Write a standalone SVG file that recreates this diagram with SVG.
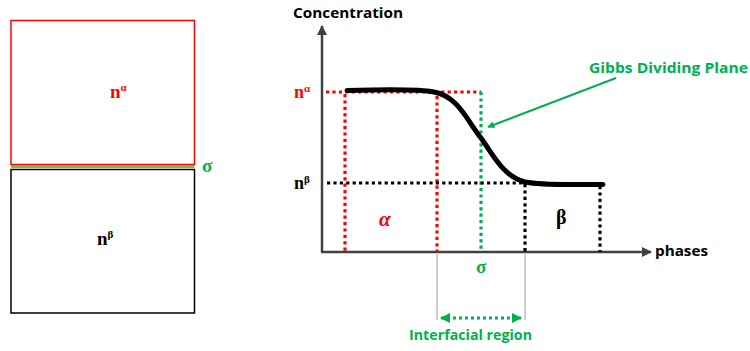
<svg xmlns="http://www.w3.org/2000/svg" width="750" height="351" viewBox="0 0 750 351">
<defs>
<style>
.lbl{font-family:"Open Sans","Liberation Sans",sans-serif;font-weight:bold;font-size:15px}
.gk{font-family:"Liberation Serif","DejaVu Serif",serif;font-weight:bold}
.dot{stroke-width:3.2;stroke-dasharray:3.2 3.2;fill:none}
.red{stroke:#ff0000}.blk{stroke:#000}.grn{stroke:#00b050}
</style>
<marker id="ah" viewBox="0 0 10 10" refX="9" refY="5" markerWidth="4" markerHeight="4" orient="auto-start-reverse"><path d="M0,0L10,5L0,10z" fill="#404040"/></marker>
<marker id="gh" viewBox="0 0 10 10" refX="9" refY="5" markerWidth="3.5" markerHeight="3.5" orient="auto-start-reverse"><path d="M0,0L10,5L0,10z" fill="#00b050"/></marker>
</defs>
<rect width="750" height="351" fill="#fff"/>
<g id="phase-alpha">
<rect x="11" y="20.5" width="183.5" height="144" fill="none" stroke="#ff0000" stroke-width="1.5"/>
<text x="110" y="98" class="gk" font-size="19" fill="#ff0000">n<tspan font-size="11" dy="-7">α</tspan></text>
</g>
<g id="interface">
<line x1="11" y1="166.5" x2="194.5" y2="166.5" stroke="#7cc040" stroke-width="3"/>
<text x="202" y="172" class="gk" font-size="19" fill="#00b050">σ</text>
</g>
<g id="phase-beta">
<rect x="11" y="169.5" width="183.5" height="143.5" fill="none" stroke="#000" stroke-width="1.5"/>
<text x="97" y="245" class="gk" font-size="19" fill="#000">n<tspan font-size="11" dy="-7">β</tspan></text>
</g>
<g id="connectors">
<line x1="322" y1="252" x2="322" y2="26" stroke="#404040" stroke-width="2.5" marker-end="url(#ah)"/>
<line x1="321" y1="252" x2="651" y2="252" stroke="#404040" stroke-width="2.5" marker-end="url(#ah)"/>
<line x1="326" y1="92" x2="481" y2="92" class="dot red"/>
<line x1="345" y1="94" x2="345" y2="252" class="dot red"/>
<line x1="437" y1="96" x2="437" y2="252" class="dot red"/>
<line x1="481" y1="92" x2="481" y2="252" class="dot grn"/>
<line x1="327" y1="183" x2="525" y2="183" class="dot blk"/>
<line x1="525" y1="184" x2="525" y2="252" class="dot blk"/>
<line x1="600" y1="186" x2="600" y2="252" class="dot blk"/>
<path d="M347,90.5 C380,89.5 420,89 434,92 C458,96 468,122 481,138 C494,156 503,176 525,182 C545,186 580,184 603,184.5" fill="none" stroke="#000" stroke-width="5" stroke-linecap="round"/>
<line x1="437" y1="254" x2="437" y2="320" stroke="#999" stroke-width="1"/>
<line x1="525" y1="254" x2="525" y2="320" stroke="#999" stroke-width="1"/>
<line x1="441" y1="318" x2="521" y2="318" stroke="#00b050" stroke-width="3" stroke-dasharray="3 3" marker-start="url(#gh)" marker-end="url(#gh)"/>
<line x1="616" y1="78" x2="488" y2="127" stroke="#00b050" stroke-width="2" marker-end="url(#gh)"/>
</g>
<g id="labels">
<text x="293" y="18" class="lbl" fill="#000" textLength="110" lengthAdjust="spacingAndGlyphs">Concentration</text>
<text x="655" y="256" class="lbl" fill="#000" textLength="53" lengthAdjust="spacingAndGlyphs">phases</text>
<text x="589" y="73" class="lbl" fill="#00b050" textLength="159" lengthAdjust="spacingAndGlyphs">Gibbs Dividing Plane</text>
<text x="409" y="340" class="lbl" fill="#00b050" textLength="123" lengthAdjust="spacingAndGlyphs">Interfacial region</text>
<text x="294" y="98" class="gk" font-size="18" fill="#ff0000">n<tspan font-size="11" dy="-6">α</tspan></text>
<text x="294" y="189" class="gk" font-size="18" fill="#000">n<tspan font-size="11" dy="-6">β</tspan></text>
<text x="379" y="226" class="gk" font-size="21" font-style="italic" fill="#ff0000">α</text>
<text x="556" y="224" class="gk" font-size="20" fill="#000">β</text>
<text x="476" y="273" class="gk" font-size="19" fill="#00b050">σ</text>
</g>
</svg>
